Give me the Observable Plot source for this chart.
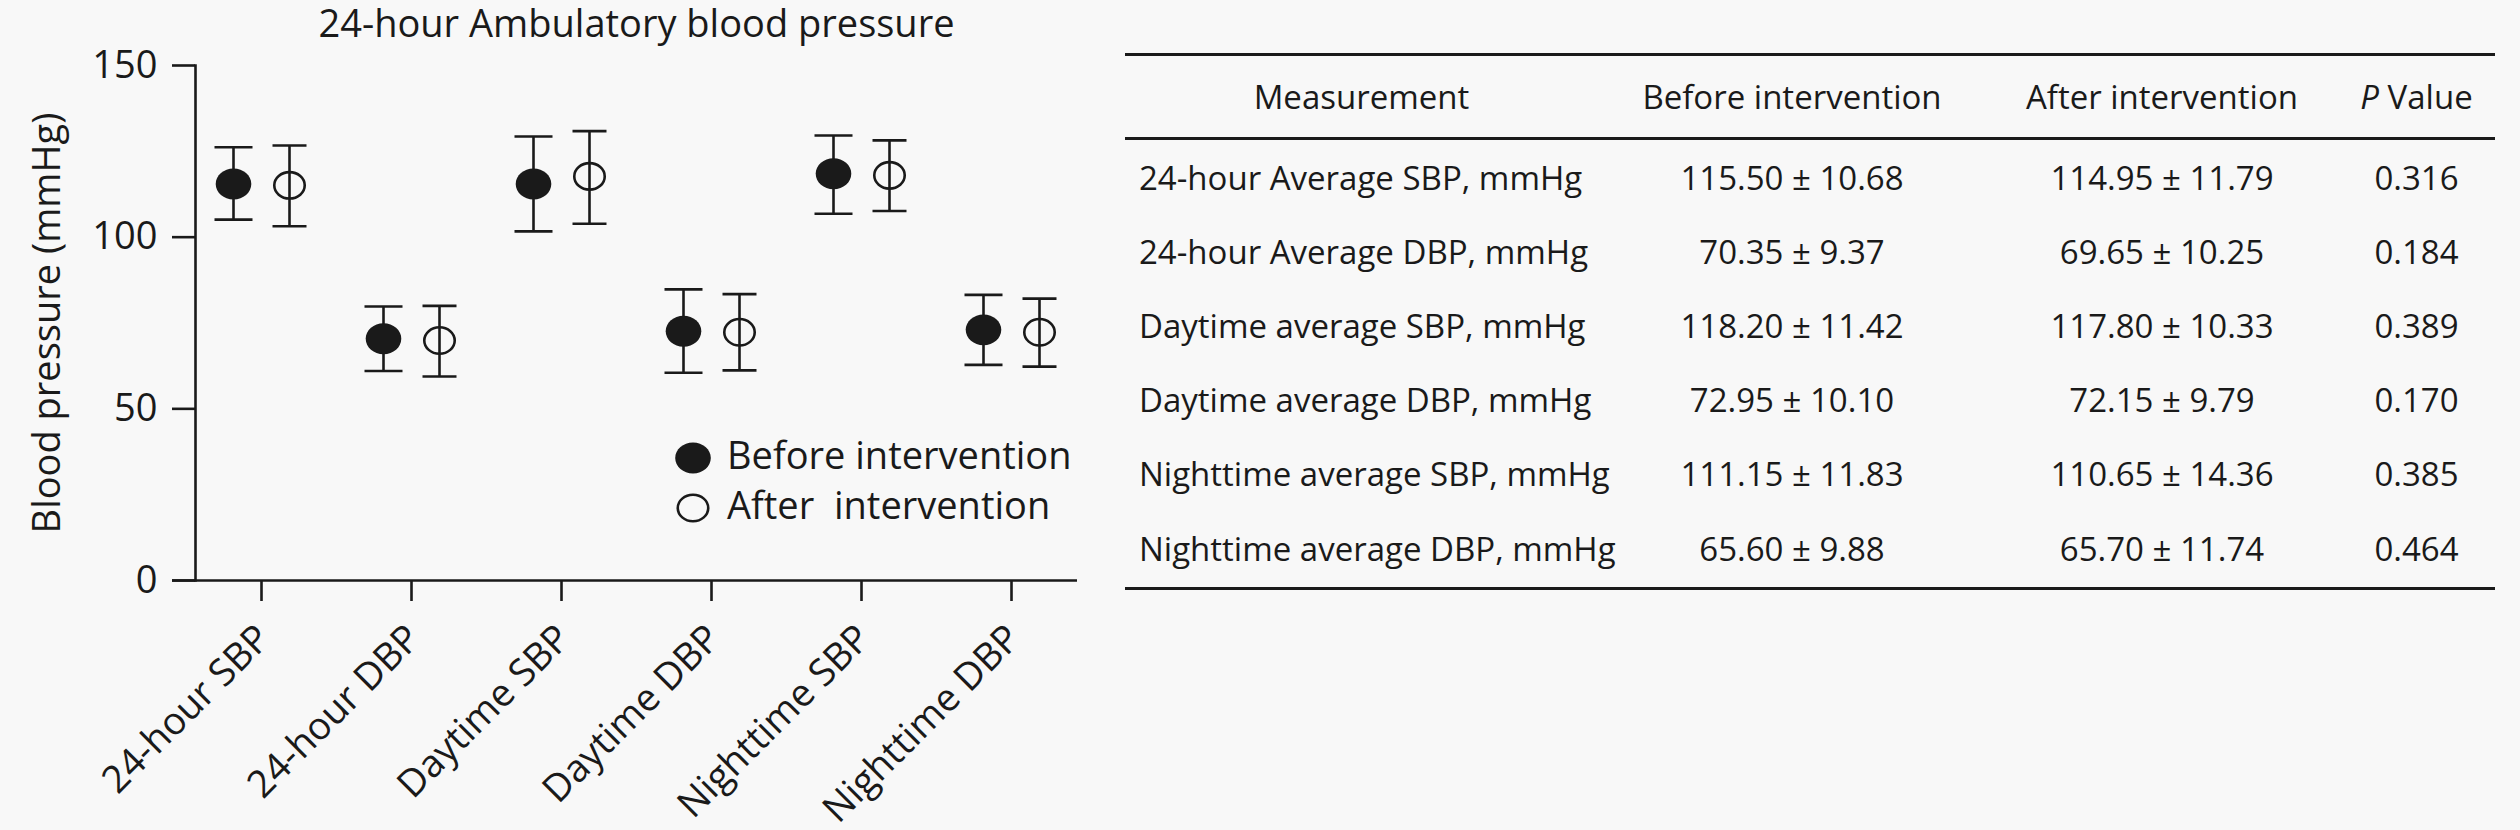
<!DOCTYPE html>
<html>
<head>
<meta charset="utf-8">
<script src="https://cdn.jsdelivr.net/npm/d3@7"></script>
<script src="https://cdn.jsdelivr.net/npm/@observablehq/plot@0.6"></script>
<style>
  html, body { margin: 0; padding: 0; background: #f8f8f8; }
  #root { position: relative; width: 2520px; height: 830px; font-family: "Open Sans", sans-serif; color: #1a1a1a; }
  #chart { position: absolute; left: 0; top: 0; }
  #legend { position: absolute; left: 0; top: 0; pointer-events: none; }
  #table { position: absolute; left: 1125px; top: 53px; width: 1370px;
           border-top: 3px solid #1a1a1a; border-bottom: 3px solid #1a1a1a; font-size: 33px; }
  .row { display: grid; grid-template-columns: 473px 388px 352px 157px; height: 74px; align-items: center; }
  .row.head { height: 81px; border-bottom: 3px solid #1a1a1a; }
  .row.last { height: 77px; padding-bottom: 0; }
  .row div { text-align: center; white-space: nowrap; }
  .row div.lab { text-align: left; padding-left: 14px; }
</style>
</head>
<body>
<div id="root">
  <div id="chart"></div>
  <div id="legend"></div>
  <div id="table"></div>
</div>
<script>
// ---------- chart data ----------
const title = "24-hour Ambulatory blood pressure";
const yLabel = "Blood pressure (mmHg)";
const categories = ["24-hour SBP", "24-hour DBP", "Daytime SBP", "Daytime DBP", "Nighttime SBP", "Nighttime DBP"];
const yTicks = [0, 50, 100, 150];
const beforeMean = [115.5, 70.4, 115.5, 72.6, 118.5, 73.0];
const beforeLow  = [105.1, 61.0, 101.7, 60.5, 106.8, 62.8];
const beforeHigh = [126.2, 79.8, 129.3, 84.8, 129.6, 83.2];
const afterMean  = [115.1, 69.9, 117.7, 72.3, 118.0, 72.3];
const afterLow   = [103.2, 59.4, 103.9, 61.2, 107.6, 62.3];
const afterHigh  = [126.7, 80.0, 130.9, 83.4, 128.2, 82.1];
const legendLabels = ["Before intervention", "After  intervention"];

// ---------- table data ----------
const tableHeader = ["Measurement", "Before intervention", "After intervention", "P Value"];
const measurements = [
  "24-hour Average SBP, mmHg", "24-hour Average DBP, mmHg",
  "Daytime average SBP, mmHg", "Daytime average DBP, mmHg",
  "Nighttime average SBP, mmHg", "Nighttime average DBP, mmHg"];
const beforeText = ["115.50 ± 10.68", "70.35 ± 9.37", "118.20 ± 11.42", "72.95 ± 10.10", "111.15 ± 11.83", "65.60 ± 9.88"];
const afterText  = ["114.95 ± 11.79", "69.65 ± 10.25", "117.80 ± 10.33", "72.15 ± 9.79", "110.65 ± 14.36", "65.70 ± 11.74"];
const pValues    = ["0.316", "0.184", "0.389", "0.170", "0.385", "0.464"];

// ---------- build ----------
const ink = "#1a1a1a";
const before = categories.map((c, i) => ({cat: c, mean: beforeMean[i], lo: beforeLow[i], hi: beforeHigh[i]}));
const after  = categories.map((c, i) => ({cat: c, mean: afterMean[i],  lo: afterLow[i],  hi: afterHigh[i]}));

function ellipseSymbol(aspect) {
  const s = Math.sqrt(aspect);
  return {
    draw(context, size) {
      const r = Math.sqrt(size / Math.PI);
      const rx = r * s, ry = r / s, k = 0.5523;
      context.moveTo(rx, 0);
      context.bezierCurveTo(rx, k * ry, k * rx, ry, 0, ry);
      context.bezierCurveTo(-k * rx, ry, -rx, k * ry, -rx, 0);
      context.bezierCurveTo(-rx, -k * ry, -k * rx, -ry, 0, -ry);
      context.bezierCurveTo(k * rx, -ry, rx, -k * ry, rx, 0);
      context.closePath();
    }
  };
}
// horizontal cap for error bars: half-width = r
const capSymbol = {
  draw(context, size) {
    const r = Math.sqrt(size / Math.PI);
    context.moveTo(-r, 0);
    context.lineTo(r, 0);
  }
};
const ell = ellipseSymbol(1.15);
const sw = 2.6, off = 28;

const chart = Plot.plot({
  width: 1100, height: 830,
  marginLeft: 195, marginRight: 23, marginTop: 65, marginBottom: 250,
  style: {background: "transparent", fontFamily: "'Open Sans', sans-serif", color: ink, overflow: "visible"},
  x: {type: "point", domain: categories, padding: 0.44},
  y: {domain: [0, 150]},
  marks: [
    Plot.axisY({ticks: yTicks, tickSize: 23, tickPadding: 15, fontSize: 38, label: null, strokeWidth: sw, tickFormat: d => String(d)}),
    Plot.frame({anchor: "left", strokeWidth: sw, stroke: ink}),
    Plot.ruleY([0], {insetLeft: -23, strokeWidth: sw, stroke: ink}),
    Plot.axisX({tickSize: 21, tickFormat: () => "", label: null, strokeWidth: sw}),
    Plot.text(categories, {x: d => d, frameAnchor: "bottom", rotate: -45, textAnchor: "end", lineAnchor: "bottom", dx: 11, dy: 60, fontSize: 38, fill: ink}),
    Plot.text([yLabel], {frameAnchor: "left", rotate: -90, textAnchor: "middle", lineAnchor: "bottom", dx: -136, fontSize: 38, fill: ink}),
    Plot.text([title], {frameAnchor: "top", textAnchor: "middle", lineAnchor: "bottom", dy: -28.5, fontSize: 38, fill: ink}),
    // before
    Plot.ruleX(before, {x: "cat", y1: "lo", y2: "hi", dx: -off, stroke: ink, strokeWidth: sw}),
    Plot.dot(before, {x: "cat", y: "lo", dx: -off, r: 19, symbol: capSymbol, fill: "none", stroke: ink, strokeWidth: sw}),
    Plot.dot(before, {x: "cat", y: "hi", dx: -off, r: 19, symbol: capSymbol, fill: "none", stroke: ink, strokeWidth: sw}),
    Plot.dot(before, {x: "cat", y: "mean", dx: -off, r: 16.6, symbol: ell, fill: ink, stroke: "none"}),
    // after
    Plot.ruleX(after, {x: "cat", y1: "lo", y2: "hi", dx: off, stroke: ink, strokeWidth: sw}),
    Plot.dot(after, {x: "cat", y: "lo", dx: off, r: 17, symbol: capSymbol, fill: "none", stroke: ink, strokeWidth: sw}),
    Plot.dot(after, {x: "cat", y: "hi", dx: off, r: 17, symbol: capSymbol, fill: "none", stroke: ink, strokeWidth: sw}),
    Plot.dot(after, {x: "cat", y: "mean", dx: off, r: 14.2, symbol: ell, fill: "none", stroke: ink, strokeWidth: sw})
  ]
});
document.getElementById("chart").appendChild(chart);

// legend overlay
const lg = d3.select("#legend").append("svg").attr("width", 1100).attr("height", 830);
const sym = d3.symbol(ell);
lg.append("path").attr("d", sym.size(Math.PI * 16.6 * 16.6)()).attr("transform", "translate(693,458)").attr("fill", ink);
lg.append("path").attr("d", sym.size(Math.PI * 14.2 * 14.2)()).attr("transform", "translate(693,508)")
  .attr("fill", "none").attr("stroke", ink).attr("stroke-width", sw);
lg.selectAll("text").data(legendLabels).join("text")
  .attr("x", 727).attr("y", (d, i) => 469 + i * 50)
  .attr("font-family", "'Open Sans', sans-serif").attr("font-size", 38).attr("fill", ink)
  .style("white-space", "pre").text(d => d);

// table
const tbl = d3.select("#table");
const head = tbl.append("div").attr("class", "row head");
tableHeader.forEach((h, i) => {
  const c = head.append("div");
  if (i === 3) { c.append("i").text("P"); c.append("span").text(" Value"); }
  else c.text(h);
});
measurements.forEach((m, i) => {
  const r = tbl.append("div").attr("class", "row" + (i === measurements.length - 1 ? " last" : ""));
  r.append("div").attr("class", "lab").text(m);
  r.append("div").text(beforeText[i]);
  r.append("div").text(afterText[i]);
  r.append("div").text(pValues[i]);
});
</script>
</body>
</html>
